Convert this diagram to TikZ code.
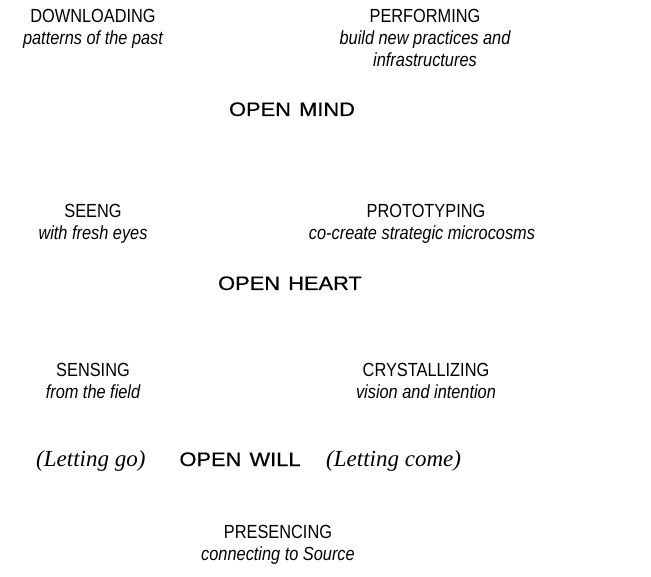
\documentclass[tikz,border=0pt]{standalone}
\usepackage{fontspec}
\setmainfont[FakeStretch=0.86]{Liberation Sans}
\newfontfamily\copperfont[FakeStretch=1.12,FakeBold=0.6]{Liberation Sans}
\newfontfamily\timesfont{Liberation Serif}
\newcommand{\wsp}{\hspace{0.42em}}
\tikzset{
  stage/.style={anchor=base, inner sep=0pt, font=\fontsize{19}{22}\selectfont},
  sub/.style={anchor=base, inner sep=0pt, font=\fontsize{19}{22}\selectfont\itshape},
  openness/.style={anchor=base, inner sep=0pt, font=\fontsize{19.5}{23}\copperfont},
  letting/.style={inner sep=0pt, font=\fontsize{23}{27}\timesfont\itshape},
}
\begin{document}
\begin{tikzpicture}[x=1pt,y=-1pt]
\useasboundingbox (0,0) rectangle (651,577);
\node[stage] (dl) at (93,23) {DOWNLOADING};
\node[sub] (dls) at (93,45) {patterns of the past};
\node[stage] (pf) at (425,23) {PERFORMING};
\node[sub] (pfs1) at (425,45) {build new practices and};
\node[sub] (pfs2) at (425,67) {infrastructures};
\node[openness] (om) at (292,116) {OPEN\wsp MIND};
\node[stage] (se) at (93,218) {SEENG};
\node[sub] (ses) at (93,240) {with fresh eyes};
\node[stage] (pt) at (426,218) {PROTOTYPING};
\node[sub] (pts) at (422,240) {co-create strategic microcosms};
\node[openness] (oh) at (290,290) {OPEN\wsp HEART};
\node[stage] (sn) at (93,377) {SENSING};
\node[sub] (sns) at (93,399) {from the field};
\node[stage] (cr) at (426,377) {CRYSTALLIZING};
\node[sub] (crs) at (426,399) {vision and intention};
\node[letting, anchor=base west] (lg) at (36,466) {(Letting go)};
\node[openness] (ow) at (240,466) {OPEN\wsp WILL};
\node[letting, anchor=base west] (lc) at (326,466) {(Letting come)};
\node[stage] (pr) at (278,538) {PRESENCING};
\node[sub] (prs) at (278,560) {connecting to Source};
\end{tikzpicture}
\end{document}
